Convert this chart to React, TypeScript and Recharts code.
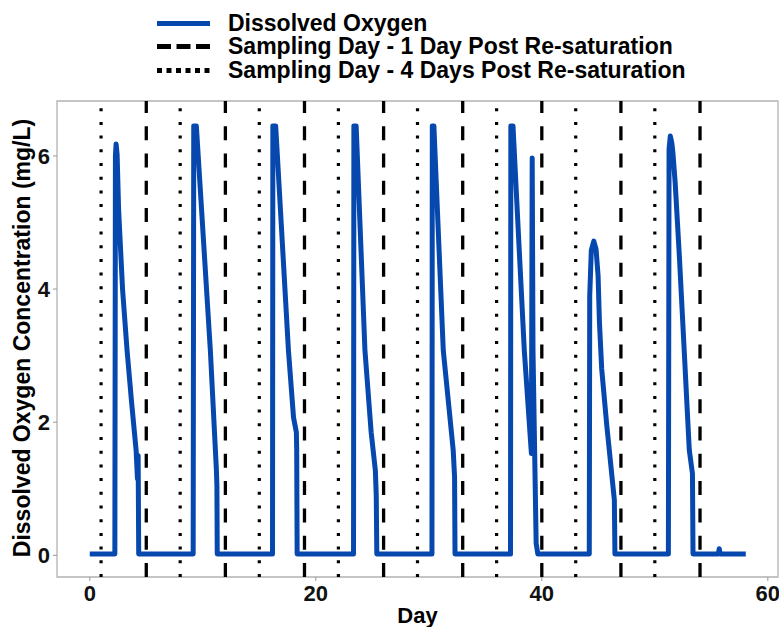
import React from 'react';
import { LineChart, Line, XAxis, YAxis, ReferenceLine, ReferenceArea, Legend, Label } from 'recharts';

// day of the experiment and dissolved oxygen reading (mg/L)
const days = [
  0, 2.22, 2.27, 2.33, 2.42, 2.55, 2.9, 3.3, 3.7, 4.1, 4.22, 4.28, 4.33,
  9.15, 9.2, 9.43, 10.67, 11.2, 11.25, 11.28,
  16.17, 16.2, 16.45, 17.58, 18.03, 18.28, 18.31, 18.35,
  23.34, 23.37, 23.57, 24.35, 24.9, 25.27, 25.35, 25.4,
  30.28, 30.31, 30.45, 31.28, 32.16, 32.28, 32.32,
  37.23, 37.26, 37.45, 38.45, 39.08, 39.15, 39.22, 39.5, 39.65,
  44.2, 44.24, 44.38, 44.6, 44.8, 44.98, 45.1, 45.3, 45.75, 46.42, 46.47,
  51.2, 51.26, 51.37, 51.5, 51.6, 51.8, 52.18, 52.6, 53.05, 53.33, 53.38,
  55.62, 55.7, 55.78, 58.05,
];
const oxygen = [
  0.02, 0.02, 6.0, 6.18, 6.02, 5.2, 4.0, 3.08, 2.3, 1.58, 1.15, 1.5, 0.02,
  0.02, 6.45, 6.45, 3.08, 1.3, 1.05, 0.02,
  0.02, 6.45, 6.45, 3.08, 2.07, 1.85, 1.6, 0.02,
  0.02, 6.45, 6.45, 3.08, 1.85, 1.28, 0.9, 0.02,
  0.02, 6.45, 6.45, 3.08, 1.58, 1.18, 0.02,
  0.02, 6.45, 6.45, 3.08, 1.53, 5.97, 3.08, 0.18, 0.02,
  0.02, 3.9, 4.58, 4.72, 4.6, 4.2, 3.5, 2.8, 1.95, 0.83, 0.02,
  0.02, 6.1, 6.3, 6.2, 6.05, 5.6, 4.47, 3.08, 1.58, 1.23, 0.02,
  0.02, 0.1, 0.02, 0.02,
];

const oneDayPost = [5, 12, 19, 26, 33, 40, 47, 54];
const fourDaysPost = [1, 8, 15, 22, 29, 36, 43, 50];

const xTicks = [0, 20, 40, 60];
const yTicks = [0, 2, 4, 6];

const legendItems = [
  { name: 'Dissolved Oxygen', color: '#0748ae', dash: '', width: 5 },
  { name: 'Sampling Day - 1 Day Post Re-saturation', color: '#000', dash: '14 5.5', width: 5 },
  { name: 'Sampling Day - 4 Days Post Re-saturation', color: '#000', dash: '5 4.5', width: 5 },
];

interface DoPoint {
  day: number;
  value: number;
}

const data: DoPoint[] = days.map((d, i) => ({ day: d, value: oxygen[i] }));

const font = '"Liberation Sans", Arial, sans-serif';
const tickStyle = { fontSize: 22, fontWeight: 700, fill: '#111', fontFamily: font };

const renderLegend = () => (
  <div style={{ fontFamily: font, fontSize: 23, fontWeight: 700, color: '#000' }}>
    {legendItems.map((item) => (
      <div key={item.name} style={{ display: 'flex', alignItems: 'center', height: 23.5, whiteSpace: 'nowrap' }}>
        <svg width={53} height={23} style={{ marginRight: 18 }}>
          <line x1={0} y1={11.5} x2={53} y2={11.5} stroke={item.color} strokeWidth={item.width} strokeDasharray={item.dash} />
        </svg>
        <span>{item.name}</span>
      </div>
    ))}
  </div>
);

const renderYLabel = () => (
  <text
    x={22}
    y={338}
    transform="rotate(-90 22 338)"
    textAnchor="middle"
    dominantBaseline="central"
    style={{ fontSize: 23, fontWeight: 700, fill: '#000', fontFamily: font }}
  >
    Dissolved Oxygen Concentration (mg/L)
  </text>
);

const App = () => {
  return (
    <div style={{ position: 'absolute', left: 0, top: 0, width: 779, height: 627, background: '#fff' }}>
      <LineChart width={779} height={627} data={data} margin={{ top: 101, right: 1, bottom: 0, left: 0 }}>
        <XAxis
          dataKey="day"
          type="number"
          domain={[-2.9, 60.9]}
          ticks={xTicks}
          allowDataOverflow
          height={50}
          axisLine={false}
          tickLine={{ stroke: '#999' }}
          tickSize={4}
          tickMargin={4}
          tick={tickStyle}
        >
          <Label value="Day" position="insideBottom" offset={4} style={{ fontSize: 22, fontWeight: 700, fill: '#000', fontFamily: font }} />
        </XAxis>
        <YAxis
          type="number"
          domain={[-0.325, 6.825]}
          ticks={yTicks}
          allowDataOverflow
          width={57}
          axisLine={false}
          tickLine={{ stroke: '#999' }}
          tickSize={4}
          tickMargin={3}
          tick={tickStyle}
          label={{ content: renderYLabel }}
        />
        <ReferenceArea x1={-2.9} x2={60.9} y1={-0.325} y2={6.825} fill="none" stroke="#b3b3b3" strokeWidth={1.3} />
        {fourDaysPost.map((d) => (
          <ReferenceLine key={'f' + d} x={d} stroke="#000" strokeWidth={3.2} strokeDasharray="3 10.7" />
        ))}
        {oneDayPost.map((d) => (
          <ReferenceLine key={'o' + d} x={d} stroke="#000" strokeWidth={3.3} strokeDasharray="14 13.3" />
        ))}
        <Legend
          layout="vertical"
          align="center"
          verticalAlign="middle"
          content={renderLegend}
          wrapperStyle={{ top: 11.5, left: 157, width: 600 }}
        />
        <Line
          type="linear"
          dataKey="value"
          stroke="#0748ae"
          strokeWidth={5}
          strokeLinejoin="round"
          dot={false}
          activeDot={false}
          isAnimationActive={false}
        />
      </LineChart>
    </div>
  );
};

export default App;
